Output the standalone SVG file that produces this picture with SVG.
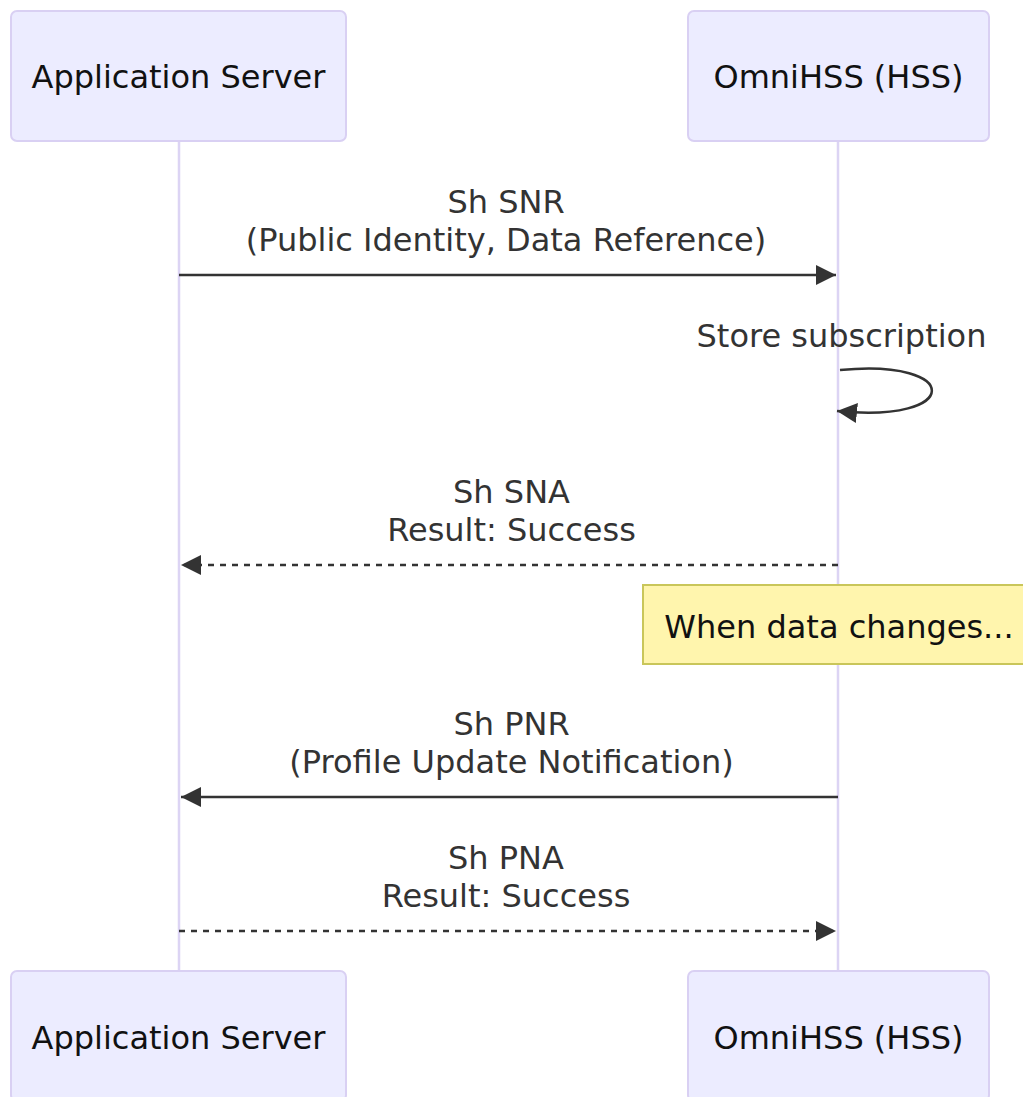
<svg xmlns="http://www.w3.org/2000/svg" width="1023" height="1097" viewBox="0 0 1023 1097">
  <style>
    .actor { fill: #ECECFF; stroke: #D9D0F3; stroke-width: 2; }
    .actor-text { font-family: "DejaVu Sans", Verdana, sans-serif; font-size: 32px; fill: #111; text-anchor: middle; }
    .lifeline { stroke: #DCD4F4; stroke-width: 2.5; }
    .msg-text { font-family: "DejaVu Sans", Verdana, sans-serif; font-size: 32px; fill: #333; text-anchor: middle; }
    .msg { stroke: #333; stroke-width: 2.5; fill: none; }
    .dashed { stroke-dasharray: 6 6; }
    .note { fill: #FFF5AD; stroke: #C9C65A; stroke-width: 2; }
    .note-text { font-family: "DejaVu Sans", Verdana, sans-serif; font-size: 32px; fill: #111; text-anchor: middle; }
  </style>
  <defs>
    <marker id="arrow" viewBox="0 0 20 20" refX="20" refY="10" markerWidth="20" markerHeight="20" markerUnits="userSpaceOnUse" orient="auto">
      <path d="M0,0 L20,10 L0,20 Z" fill="#333"/>
    </marker>
  </defs>
  <rect width="1023" height="1097" fill="#ffffff"/>

  <g id="lifelines">
    <line class="lifeline" x1="179" y1="141" x2="179" y2="971"/>
    <line class="lifeline" x1="838" y1="141" x2="838" y2="971"/>
  </g>

  <g id="actor-as-top">
    <rect class="actor" x="11" y="11" width="335" height="130" rx="6"/>
    <text class="actor-text" x="178.5" y="88">Application Server</text>
  </g>
  <g id="actor-hss-top">
    <rect class="actor" x="688" y="11" width="301" height="130" rx="6"/>
    <text class="actor-text" x="838.5" y="88">OmniHSS (HSS)</text>
  </g>

  <g id="note-data-changes">
    <rect class="note" x="643" y="585" width="392" height="79"/>
    <text class="note-text" x="839" y="638">When data changes...</text>
  </g>

  <g id="connectors">
    <g id="msg-snr">
      <text class="msg-text" x="506" y="213">Sh SNR</text>
      <text class="msg-text" x="506" y="251">(Public Identity, Data Reference)</text>
      <line class="msg" x1="179" y1="275" x2="836" y2="275" marker-end="url(#arrow)"/>
    </g>
    <g id="msg-store">
      <text class="msg-text" x="841.5" y="347">Store subscription</text>
      <path class="msg" d="M840,370 C963,358 963,424 837,411" marker-end="url(#arrow)"/>
    </g>
    <g id="msg-sna">
      <text class="msg-text" x="511.5" y="503">Sh SNA</text>
      <text class="msg-text" x="511.5" y="541">Result: Success</text>
      <line class="msg dashed" x1="838" y1="565" x2="181" y2="565" marker-end="url(#arrow)"/>
    </g>
    <g id="msg-pnr">
      <text class="msg-text" x="511.5" y="735">Sh PNR</text>
      <text class="msg-text" x="511.5" y="773">(Profile Update Notification)</text>
      <line class="msg" x1="838" y1="797" x2="181" y2="797" marker-end="url(#arrow)"/>
    </g>
    <g id="msg-pna">
      <text class="msg-text" x="506" y="869">Sh PNA</text>
      <text class="msg-text" x="506" y="907">Result: Success</text>
      <line class="msg dashed" x1="179" y1="931" x2="836" y2="931" marker-end="url(#arrow)"/>
    </g>
  </g>

  <g id="actor-as-bottom">
    <rect class="actor" x="11" y="971" width="335" height="130" rx="6"/>
    <text class="actor-text" x="178.5" y="1049">Application Server</text>
  </g>
  <g id="actor-hss-bottom">
    <rect class="actor" x="688" y="971" width="301" height="130" rx="6"/>
    <text class="actor-text" x="838.5" y="1049">OmniHSS (HSS)</text>
  </g>
</svg>
